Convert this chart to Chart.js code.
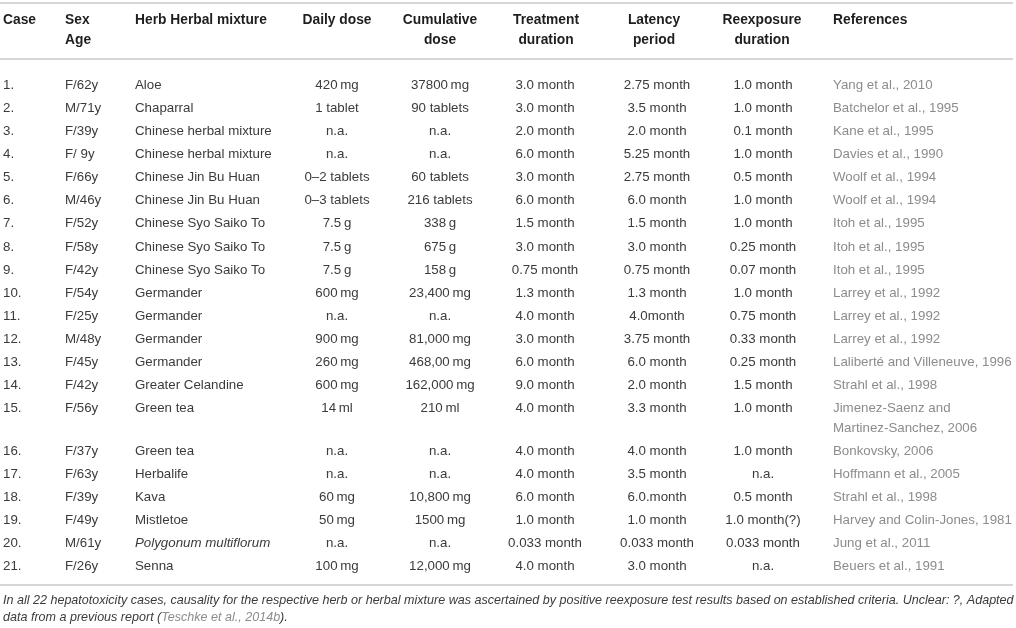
<!DOCTYPE html>
<html>
<head>
<meta charset="utf-8">
<script src="https://cdn.jsdelivr.net/npm/chart.js@4/dist/chart.umd.min.js"></script>
<style>
  html, body { margin: 0; padding: 0; background: #fff; }
  #wrap { width: 1016px; height: 628px; position: relative; }
</style>
</head>
<body>
<div id="wrap"><canvas id="c"></canvas></div>
<script>
// ---------------- DATA ----------------
const headers = [
  ["Case"], ["Sex", "Age"], ["Herb Herbal mixture"], ["Daily dose"], ["Cumulative", "dose"],
  ["Treatment", "duration"], ["Latency", "period"], ["Reexposure", "duration"], ["References"]
];
const cases = ["1.","2.","3.","4.","5.","6.","7.","8.","9.","10.","11.","12.","13.","14.","15.","16.","17.","18.","19.","20.","21."];
const sexAge = ["F/62y","M/71y","F/39y","F/ 9y","F/66y","M/46y","F/52y","F/58y","F/42y","F/54y","F/25y","M/48y","F/45y","F/42y","F/56y","F/37y","F/63y","F/39y","F/49y","M/61y","F/26y"];
const herbs = ["Aloe","Chaparral","Chinese herbal mixture","Chinese herbal mixture","Chinese Jin Bu Huan","Chinese Jin Bu Huan","Chinese Syo Saiko To","Chinese Syo Saiko To","Chinese Syo Saiko To","Germander","Germander","Germander","Germander","Greater Celandine","Green tea","Green tea","Herbalife","Kava","Mistletoe","Polygonum multiflorum","Senna"];
const italicHerbs = ["Polygonum multiflorum"];
const dailyDose = ["420\u2009mg","1 tablet","n.a.","n.a.","0\u20132 tablets","0\u20133 tablets","7.5\u2009g","7.5\u2009g","7.5\u2009g","600\u2009mg","n.a.","900\u2009mg","260\u2009mg","600\u2009mg","14\u2009ml","n.a.","n.a.","60\u2009mg","50\u2009mg","n.a.","100\u2009mg"];
const cumulativeDose = ["37800\u2009mg","90 tablets","n.a.","n.a.","60 tablets","216 tablets","338\u2009g","675\u2009g","158\u2009g","23,400\u2009mg","n.a.","81,000\u2009mg","468,00\u2009mg","162,000\u2009mg","210\u2009ml","n.a.","n.a.","10,800\u2009mg","1500\u2009mg","n.a.","12,000\u2009mg"];
const treatment = ["3.0 month","3.0 month","2.0 month","6.0 month","3.0 month","6.0 month","1.5 month","3.0 month","0.75 month","1.3 month","4.0 month","3.0 month","6.0 month","9.0 month","4.0 month","4.0 month","4.0 month","6.0 month","1.0 month","0.033 month","4.0 month"];
const latency = ["2.75 month","3.5 month","2.0 month","5.25 month","2.75 month","6.0 month","1.5 month","3.0 month","0.75 month","1.3 month","4.0month","3.75 month","6.0 month","2.0 month","3.3 month","4.0 month","3.5 month","6.0.month","1.0 month","0.033 month","3.0 month"];
const reexposure = ["1.0 month","1.0 month","0.1 month","1.0 month","0.5 month","1.0 month","1.0 month","0.25 month","0.07 month","1.0 month","0.75 month","0.33 month","0.25 month","1.5 month","1.0 month","1.0 month","n.a.","0.5 month","1.0 month(?)","0.033 month","n.a."];
const references = ["Yang et al., 2010","Batchelor et al., 1995","Kane et al., 1995","Davies et al., 1990","Woolf et al., 1994","Woolf et al., 1994","Itoh et al., 1995","Itoh et al., 1995","Itoh et al., 1995","Larrey et al., 1992","Larrey et al., 1992","Larrey et al., 1992","Laliberté and Villeneuve, 1996","Strahl et al., 1998","Jimenez-Saenz and\nMartinez-Sanchez, 2006","Bonkovsky, 2006","Hoffmann et al., 2005","Strahl et al., 1998","Harvey and Colin-Jones, 1981","Jung et al., 2011","Beuers et al., 1991"];
const footnote = [
  [{t:"In all 22 hepatotoxicity cases, causality for the respective herb or herbal mixture was ascertained by positive reexposure test results based on established criteria. Unclear: ?, Adapted"}],
  [{t:"data from a previous report ("}, {t:"Teschke et al., 2014b", ref:true}, {t:")."}]
];

// ---------------- LAYOUT / STYLE ----------------
const W = 1016, H = 628;
const FONT = '"Liberation Sans", Arial, Helvetica, sans-serif';
const BODY_SIZE = 13.3, HEAD_SIZE = 13.8, FOOT_SIZE = 12.55;
const columns = [
  {x: 3,   hx: 3,   align: 'left',   data: cases},
  {x: 65,  hx: 65,  align: 'left',   data: sexAge},
  {x: 135, hx: 135, align: 'left',   data: herbs, italic: italicHerbs},
  {x: 337, hx: 337, align: 'center', data: dailyDose},
  {x: 440, hx: 440, align: 'center', data: cumulativeDose},
  {x: 545, hx: 546, align: 'center', data: treatment},
  {x: 657, hx: 654, align: 'center', data: latency},
  {x: 763, hx: 762, align: 'center', data: reexposure},
  {x: 833, hx: 833, align: 'left',   data: references, color: '#8c8c8c'}
];
const HEAD_Y = 20, HEAD_LH = 20;
const FIRST_ROW_Y = 85.5, ROW_H = 23.05, CELL_LH = 20;
const TOP_LINE = 3, HEAD_LINE = 59, BOTTOM_LINE = 585;
const FOOT_Y = 600.5, FOOT_LH = 17;

// row y-positions (multi-line cells push following rows down)
const rowY = [];
{
  let y = FIRST_ROW_Y;
  for (let i = 0; i < cases.length; i++) {
    rowY.push(y);
    let lines = 1;
    columns.forEach(c => { lines = Math.max(lines, String(c.data[i]).split('\n').length); });
    y += ROW_H + CELL_LH * (lines - 1);
  }
}

const datasets = [];
// header cells
columns.forEach((c, ci) => {
  datasets.push({
    type: 'scatter', kind: 'header', align: c.align, texts: [headers[ci]],
    data: [{x: c.hx, y: HEAD_Y}], pointRadius: 0
  });
});
// body cells
columns.forEach((c) => {
  datasets.push({
    type: 'scatter', kind: 'body', align: c.align, color: c.color || '#3b3b3b',
    italic: c.italic || [],
    texts: c.data.map(s => String(s).split('\n')),
    data: c.data.map((_, i) => ({x: c.x, y: rowY[i]})), pointRadius: 0
  });
});
// rule lines
[TOP_LINE, HEAD_LINE, BOTTOM_LINE].forEach(y => {
  datasets.push({
    type: 'line', kind: 'rule', data: [{x: 0, y}, {x: 1013, y}],
    borderColor: '#c8c8c8', borderWidth: 1.5, pointRadius: 0, fill: false
  });
});
// footnote
datasets.push({
  type: 'scatter', kind: 'foot', texts: footnote,
  data: footnote.map((_, i) => ({x: 3, y: FOOT_Y + i * FOOT_LH})), pointRadius: 0
});

const tablePlugin = {
  id: 'tableText',
  afterDatasetsDraw(chart) {
    const ctx = chart.ctx;
    ctx.save();
    ctx.textBaseline = 'middle';
    chart.data.datasets.forEach((ds, di) => {
      if (ds.kind === 'rule') return;
      const meta = chart.getDatasetMeta(di);
      meta.data.forEach((pt, i) => {
        if (ds.kind === 'foot') {
          let x = pt.x;
          ds.texts[i].forEach(seg => {
            ctx.font = 'italic ' + FOOT_SIZE + 'px ' + FONT;
            ctx.fillStyle = seg.ref ? '#8c8c8c' : '#3b3b3b';
            ctx.textAlign = 'left';
            ctx.fillText(seg.t, x, pt.y);
            x += ctx.measureText(seg.t).width;
          });
          return;
        }
        const lines = ds.texts[i];
        ctx.textAlign = ds.align;
        if (ds.kind === 'header') {
          ctx.font = 'bold ' + HEAD_SIZE + 'px ' + FONT;
          ctx.fillStyle = '#1e1e1e';
          lines.forEach((l, k) => ctx.fillText(l, pt.x, pt.y + k * HEAD_LH));
        } else {
          const italic = ds.italic.includes(lines[0]);
          ctx.font = (italic ? 'italic ' : '') + BODY_SIZE + 'px ' + FONT;
          ctx.fillStyle = ds.color;
          lines.forEach((l, k) => ctx.fillText(l, pt.x, pt.y + k * CELL_LH));
        }
      });
    });
    ctx.restore();
  }
};

new Chart(document.getElementById('c'), {
  data: { datasets },
  options: {
    responsive: true, maintainAspectRatio: false, animation: false,
    events: [],
    layout: { padding: 0 },
    plugins: { legend: { display: false }, tooltip: { enabled: false } },
    scales: {
      x: { type: 'linear', min: 0, max: W, display: false },
      y: { type: 'linear', min: 0, max: H, reverse: true, display: false }
    }
  },
  plugins: [tablePlugin]
});
</script>
</body>
</html>
